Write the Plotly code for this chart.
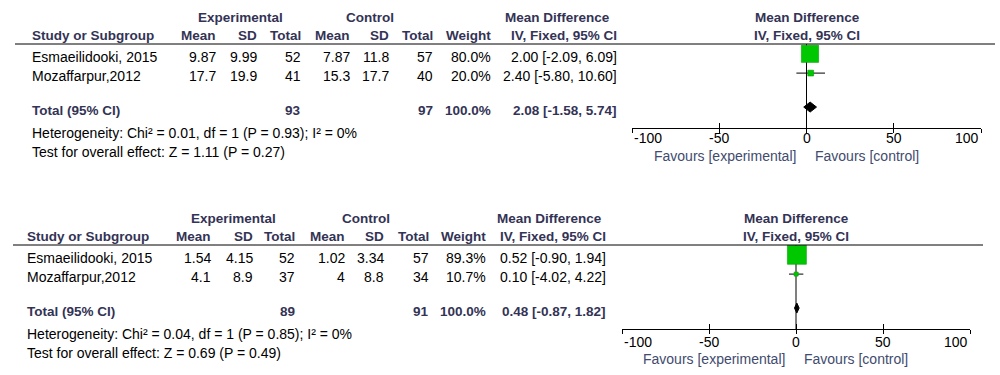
import plotly.graph_objects as go

# ---------------- data ----------------
studies = ["Esmaeilidooki, 2015", "Mozaffarpur,2012"]

# panel 1
p1_exp_mean = [9.87, 17.7]
p1_exp_sd = [9.99, 19.9]
p1_exp_n = [52, 41]
p1_ctl_mean = [7.87, 15.3]
p1_ctl_sd = [11.8, 17.7]
p1_ctl_n = [57, 40]
p1_weight = [80.0, 20.0]
p1_md = [2.00, 2.40]
p1_lo = [-2.09, -5.80]
p1_hi = [6.09, 10.60]
p1_total = [2.08, -1.58, 5.74]
p1_het = "Heterogeneity: Chi² = 0.01, df = 1 (P = 0.93); I² = 0%"
p1_test = "Test for overall effect: Z = 1.11 (P = 0.27)"

# panel 2
p2_exp_mean = [1.54, 4.1]
p2_exp_sd = [4.15, 8.9]
p2_exp_n = [52, 37]
p2_ctl_mean = [1.02, 4]
p2_ctl_sd = [3.34, 8.8]
p2_ctl_n = [57, 34]
p2_weight = [89.3, 10.7]
p2_md = [0.52, 0.10]
p2_lo = [-0.90, -4.02]
p2_hi = [1.94, 4.22]
p2_total = [0.48, -0.87, 1.82]
p2_het = "Heterogeneity: Chi² = 0.04, df = 1 (P = 0.85); I² = 0%"
p2_test = "Test for overall effect: Z = 0.69 (P = 0.49)"

tick_vals = [-100, -50, 0, 50, 100]
tick_text = ["-100", "-50", "0", "50", "100"]
col_headers = ["Mean", "SD", "Total", "Mean", "SD", "Total", "Weight", "IV, Fixed, 95% CI"]
favours = ["Favours [experimental]", "Favours [control]"]

# ---------------- layout constants ----------------
W, H = 1000, 375
FONT = "Liberation Sans, Arial, sans-serif"
HEAD_C = "#333355"
FAV_C = "#414b6e"
GREEN = "#00C800"
BOLD_SIZE = 13.5

panels = [
    dict(
        em=p1_exp_mean, es=p1_exp_sd, en=p1_exp_n, cm=p1_ctl_mean, cs=p1_ctl_sd, cn=p1_ctl_n,
        w=p1_weight, md=p1_md, lo=p1_lo, hi=p1_hi, tot=p1_total, het=p1_het, test=p1_test,
        dy=0, left=30, cols=[218, 259, 303, 352, 391, 435, 493, 619],
        h1=[240, 370, 557, 807], fx=[632, 981], line=[15, 995], tick_dy=0,
        xa="x", ya="y", xo="x3",
    ),
    dict(
        em=p2_exp_mean, es=p2_exp_sd, en=p2_exp_n, cm=p2_ctl_mean, cs=p2_ctl_sd, cn=p2_ctl_n,
        w=p2_weight, md=p2_md, lo=p2_lo, hi=p2_hi, tot=p2_total, het=p2_het, test=p2_test,
        dy=201, left=25, cols=[213, 255, 297, 347, 386, 431, 488, 608],
        h1=[233, 366, 549, 796], fx=[622, 970], line=[13, 983], tick_dy=2,
        xa="x2", ya="y2", xo="x4",
    ),
]

ROW0, ROWSTEP = 56.8, 19.3
FOREST_SHIFT = -3.0
ROW_POS = [0, 1]
TOTAL_POS = 2.76
Y_H1, Y_H2, Y_LINE, Y_AXIS = 17, 35.5, 44, 128
Y_HET, Y_TEST, Y_TICK, Y_FAV = 133, 152, 138.5, 155.5


def py(v):
    return 1 - v / H


def px(v):
    return v / W


def fmt(v):
    return f"{v:g}"


fig = go.Figure()
annotations = []
shapes = []
layout_axes = {}


def add_text(x, y, text, anchor="left", bold=False, color="#000000", size=14):
    annotations.append(dict(
        x=px(x), y=py(y), xref="paper", yref="paper", text=("<b>%s</b>" % text) if bold else text,
        xanchor=anchor, yanchor="middle", showarrow=False,
        font=dict(family=FONT, size=size, color=color),
    ))


for k, p in enumerate(panels):
    dy = p["dy"]
    cols = p["cols"]
    # header row 1
    add_text(p["h1"][0], Y_H1 + dy, "Experimental", "center", True, HEAD_C, BOLD_SIZE)
    add_text(p["h1"][1], Y_H1 + dy, "Control", "center", True, HEAD_C, BOLD_SIZE)
    add_text(p["h1"][2], Y_H1 + dy, "Mean Difference", "center", True, HEAD_C, BOLD_SIZE)
    add_text(p["h1"][3], Y_H1 + dy, "Mean Difference", "center", True, HEAD_C, BOLD_SIZE)
    # header row 2
    add_text(p["left"], Y_H2 + dy, "Study or Subgroup", "left", True, HEAD_C, BOLD_SIZE)
    for cx, h in zip(cols, col_headers):
        add_text(cx, Y_H2 + dy, h, "right", True, HEAD_C, BOLD_SIZE)
    add_text(p["h1"][3], Y_H2 + dy, col_headers[-1], "center", True, HEAD_C, BOLD_SIZE)
    # header line
    shapes.append(dict(type="line", xref="paper", yref="paper",
                       x0=px(p["line"][0]), x1=px(p["line"][1]),
                       y0=py(Y_LINE + dy), y1=py(Y_LINE + dy),
                       line=dict(color="black", width=1)))
    # study rows
    for i, name in enumerate(studies):
        yy = ROW0 + ROWSTEP * ROW_POS[i] + dy
        vals = [fmt(p["em"][i]), fmt(p["es"][i]), str(p["en"][i]),
                fmt(p["cm"][i]), fmt(p["cs"][i]), str(p["cn"][i]),
                f"{p['w'][i]:.1f}%",
                f"{p['md'][i]:.2f} [{p['lo'][i]:.2f}, {p['hi'][i]:.2f}]"]
        add_text(p["left"], yy, name, "left")
        for cx, v in zip(cols, vals):
            add_text(cx, yy, v, "right")
    # total row
    yy = ROW0 + ROWSTEP * TOTAL_POS + dy
    t = p["tot"]
    add_text(p["left"], yy, "Total (95% CI)", "left", True, HEAD_C, BOLD_SIZE)
    add_text(cols[2], yy, str(sum(p["en"])), "right", True, HEAD_C, BOLD_SIZE)
    add_text(cols[5], yy, str(sum(p["cn"])), "right", True, HEAD_C, BOLD_SIZE)
    add_text(cols[6], yy, f"{sum(p['w']):.1f}%", "right", True, HEAD_C, BOLD_SIZE)
    add_text(cols[7], yy, f"{t[0]:.2f} [{t[1]:.2f}, {t[2]:.2f}]", "right", True, HEAD_C, BOLD_SIZE)
    add_text(p["left"], Y_HET + dy, p["het"], "left")
    add_text(p["left"], Y_TEST + dy, p["test"], "left")

    # forest plot axes
    xa, ya, xo = p["xa"], p["ya"], p["xo"]
    top_px, bot_px = Y_LINE + dy, Y_AXIS + dy
    r_top = (top_px - dy - ROW0 - FOREST_SHIFT) / ROWSTEP
    r_bot = (bot_px - dy - ROW0 - FOREST_SHIFT) / ROWSTEP
    dom_x = [px(p["fx"][0]), px(p["fx"][1])]
    yname = "yaxis" if ya == "y" else "yaxis" + ya[1:]
    xname = "xaxis" if xa == "x" else "xaxis" + xa[1:]
    oname = "xaxis" + xo[1:]
    layout_axes[yname] = dict(domain=[py(bot_px), py(top_px)], range=[r_bot, r_top],
                              visible=False, fixedrange=True, anchor=xa)
    layout_axes[xname] = dict(domain=dom_x, range=[-100, 100], anchor=ya,
                              tickvals=tick_vals, ticktext=tick_text, showticklabels=False,
                              ticks="inside", ticklen=5, tickcolor="black", tickwidth=1,
                              showline=True, linecolor="black", linewidth=1,
                              showgrid=False, zeroline=False, fixedrange=True)
    layout_axes[oname] = dict(domain=dom_x, range=[-100, 100], anchor=ya, overlaying=xa,
                              tickvals=tick_vals, showticklabels=False,
                              ticks="outside", ticklen=4, tickcolor="black", tickwidth=1,
                              showline=False, showgrid=False, zeroline=False, fixedrange=True)
    # invisible trace so overlay axis renders
    fig.add_trace(go.Scatter(x=[0], y=[r_top], xaxis=xo, yaxis=ya, mode="markers",
                             marker=dict(opacity=0), hoverinfo="skip", showlegend=False))
    # tick labels
    for j, (tv, tt) in enumerate(zip(tick_vals, tick_text)):
        anc = "left" if j == 0 else ("right" if j == len(tick_vals) - 1 else "center")
        annotations.append(dict(x=tv, xref=xa, y=py(Y_TICK + dy + p["tick_dy"]), yref="paper",
                                text=tt, xanchor=anc, yanchor="middle", showarrow=False,
                                font=dict(family=FONT, size=14, color="black")))
    # favours
    annotations.append(dict(x=0, xref=xa, xshift=-9, y=py(Y_FAV + dy + p["tick_dy"]), yref="paper",
                            text=favours[0], xanchor="right", yanchor="middle", showarrow=False,
                            font=dict(family=FONT, size=14, color=FAV_C)))
    annotations.append(dict(x=0, xref=xa, xshift=6, y=py(Y_FAV + dy + p["tick_dy"]), yref="paper",
                            text=favours[1], xanchor="left", yanchor="middle", showarrow=False,
                            font=dict(family=FONT, size=14, color=FAV_C)))
    # zero line
    shapes.append(dict(type="line", xref=xa, yref=ya + " domain", x0=0, x1=0, y0=0, y1=1,
                       line=dict(color="black", width=1), layer="below"))
    # CI lines
    for i in range(len(studies)):
        fig.add_trace(go.Scatter(x=[p["lo"][i], p["hi"][i]], y=[ROW_POS[i], ROW_POS[i]],
                                 xaxis=xa, yaxis=ya, mode="lines",
                                 line=dict(color="black", width=1),
                                 hoverinfo="skip", showlegend=False))
    # squares
    fig.add_trace(go.Scatter(x=p["md"], y=ROW_POS, xaxis=xa, yaxis=ya, mode="markers",
                             marker=dict(symbol="square", color=GREEN, opacity=1,
                                         size=[2 + 0.19 * w for w in p["w"]],
                                         line=dict(color="#00a000", width=0.6)),
                             hoverinfo="skip", showlegend=False))
    # diamond
    hh = 5.0 / ROWSTEP
    fig.add_trace(go.Scatter(x=[t[1], t[0], t[2], t[0], t[1]],
                             y=[TOTAL_POS, TOTAL_POS - hh, TOTAL_POS, TOTAL_POS + hh, TOTAL_POS],
                             xaxis=xa, yaxis=ya, mode="lines", fill="toself",
                             fillcolor="black", line=dict(color="black", width=1),
                             hoverinfo="skip", showlegend=False))

fig.update_layout(
    width=W, height=H, margin=dict(l=0, r=0, t=0, b=0),
    paper_bgcolor="white", plot_bgcolor="rgba(0,0,0,0)",
    showlegend=False, annotations=annotations, shapes=shapes,
    hovermode=False,
    **layout_axes,
)

fig.write_html("out.html",
               config={"displayModeBar": False, "staticPlot": True},
               post_script="document.body.style.margin='0';document.body.style.overflow='hidden';")
